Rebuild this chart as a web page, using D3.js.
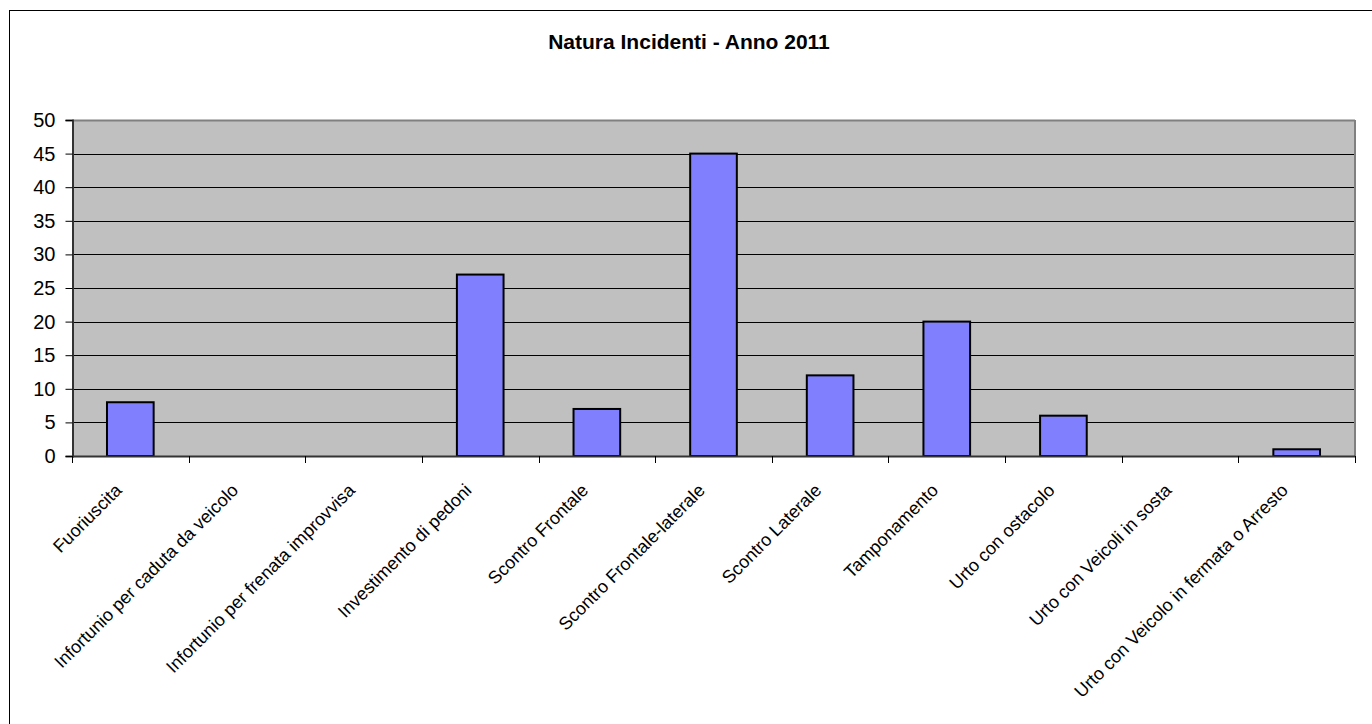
<!DOCTYPE html>
<html><head><meta charset="utf-8">
<script src="https://cdn.jsdelivr.net/npm/d3@7"></script>
<style>body{margin:0;background:#fff;overflow:hidden}svg{display:block}</style>
</head><body>
<script>
const categories = ["Fuoriuscita","Infortunio per caduta da veicolo","Infortunio per frenata improvvisa","Investimento di pedoni","Scontro Frontale","Scontro Frontale-laterale","Scontro Laterale","Tamponamento","Urto con ostacolo","Urto con Veicoli in sosta","Urto con Veicolo in fermata o Arresto"];
const values = [8,0,0,27,7,45,12,20,6,0,1];
const yTicks = [0,5,10,15,20,25,30,35,40,45,50];
const title = "Natura Incidenti - Anno 2011";

const W=1372,H=724;
const FONT="Liberation Sans, Arial, sans-serif";
const svg=d3.select("body").append("svg").attr("width",W).attr("height",H);
svg.append("rect").attr("x",9.5).attr("y",10.5).attr("width",1400).attr("height",800).attr("fill","#fff").attr("stroke","#000").attr("stroke-width",1);

const m={l:72,r:1355,t:120,b:456};
const x=d3.scaleBand().domain(categories).range([m.l,m.r]).paddingInner(0).paddingOuter(0);
const y=d3.scaleLinear().domain([0,50]).range([m.b,m.t]);

svg.append("rect").attr("x",m.l).attr("y",m.t).attr("width",m.r-m.l).attr("height",m.b-m.t).attr("fill","#c0c0c0");

svg.append("g").selectAll("line").data(yTicks.filter(d=>d>0&&d<50)).join("line")
 .attr("x1",m.l).attr("x2",m.r).attr("y1",d=>Math.round(y(d))+0.5).attr("y2",d=>Math.round(y(d))+0.5)
 .attr("stroke","#000").attr("stroke-width",1);

// plot border
svg.append("line").attr("x1",m.l).attr("x2",m.r).attr("y1",m.t+0.5).attr("y2",m.t+0.5).attr("stroke","#808080").attr("stroke-width",2);
svg.append("line").attr("x1",m.r).attr("x2",m.r).attr("y1",m.t).attr("y2",m.b).attr("stroke","#808080").attr("stroke-width",2);

const bw=x.bandwidth()/2.5;
svg.append("g").selectAll("rect").data(values).join("rect")
 .attr("x",(d,i)=>x(categories[i])+(x.bandwidth()-bw)/2)
 .attr("y",d=>y(d)).attr("width",bw).attr("height",d=>y(0)-y(d))
 .attr("fill","#8080ff").attr("stroke","#000").attr("stroke-width",2)
 .attr("display",d=>d>0?null:"none");

// y axis
const ya=svg.append("g").attr("transform",`translate(${m.l+0.5},0)`)
 .call(d3.axisLeft(y).tickValues(yTicks).tickSize(7).tickPadding(10));
ya.select(".domain").attr("stroke","#333").attr("stroke-width",2);
ya.selectAll("text").attr("font-family",FONT).attr("font-size","20px").attr("fill","#000");

// x axis
svg.append("line").attr("x1",m.l).attr("x2",m.r).attr("y1",m.b+0.5).attr("y2",m.b+0.5).attr("stroke","#333").attr("stroke-width",2);
const bounds=categories.map(c=>x(c)).concat([m.r]);
svg.append("g").selectAll("line").data(bounds).join("line")
 .attr("x1",d=>Math.round(d)+0.5).attr("x2",d=>Math.round(d)+0.5).attr("y1",m.b).attr("y2",m.b+7).attr("stroke","#000");

svg.append("g").selectAll("text").data(categories).join("text")
 .attr("transform",d=>`translate(${x(d)+x.bandwidth()/2-12},${m.b+31}) rotate(-45)`)
 .attr("text-anchor","end").attr("dy","0.35em")
 .attr("font-family",FONT).attr("font-size","18px").attr("fill","#000")
 .text(d=>d);

svg.append("text").attr("x",689).attr("y",49).attr("text-anchor","middle")
 .attr("font-family",FONT).attr("font-size","21px").attr("font-weight","bold").text(title);
</script>
</body></html>
